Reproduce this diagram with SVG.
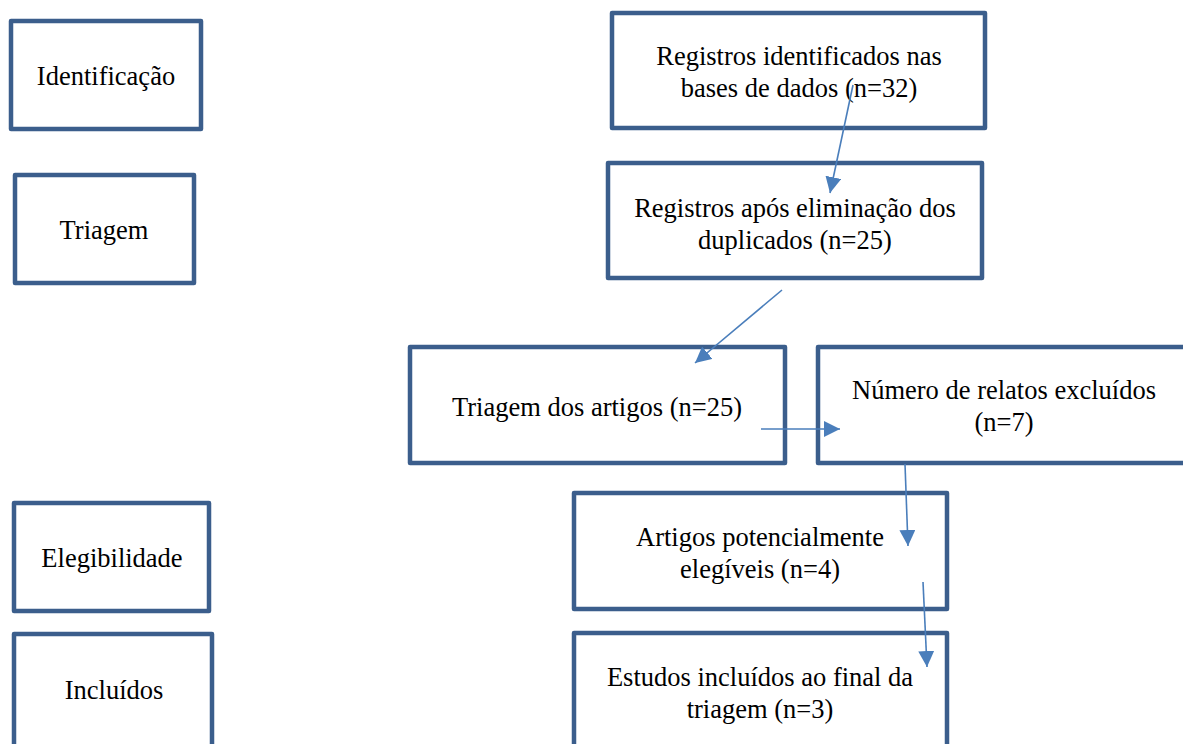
<svg xmlns="http://www.w3.org/2000/svg" width="1183" height="744" viewBox="0 0 1183 744">
<style>
.box{fill:#fff;stroke:#3B5E8C;stroke-width:4.5;stroke-linejoin:round}
.t{font-family:"Liberation Serif","Times New Roman",serif;font-size:26.5px;fill:#000;text-anchor:middle}
.c{stroke:#4A7EBB;stroke-width:1.6;fill:none;marker-end:url(#ah)}
</style>
<defs>
<marker id="ah" viewBox="0 0 10 10" refX="10" refY="5" markerWidth="16" markerHeight="16" markerUnits="userSpaceOnUse" orient="auto">
<path d="M0,0 L10,5 L0,10 z" fill="#4A7EBB"/>
</marker>
</defs>
<rect width="1183" height="744" fill="#fff"/>
<g id="n-identificacao"><rect class="box" x="11" y="21" width="190" height="108"/><text class="t" x="106" y="85">Identificação</text></g>
<g id="n-triagem"><rect class="box" x="15" y="175" width="179" height="108"/><text class="t" x="104" y="239">Triagem</text></g>
<g id="n-elegibilidade"><rect class="box" x="14" y="503" width="195" height="108"/><text class="t" x="112" y="567">Elegibilidade</text></g>
<g id="n-incluidos"><rect class="box" x="14" y="634" width="198" height="116"/><text class="t" x="114" y="699">Incluídos</text></g>
<g id="n-registros"><rect class="box" x="612" y="13" width="373" height="115"/><text class="t" x="799" y="65">Registros identificados nas</text><text class="t" x="799" y="97">bases de dados (n=32)</text></g>
<g id="n-apos"><rect class="box" x="608" y="163" width="374" height="115"/><text class="t" x="795" y="217">Registros após eliminação dos</text><text class="t" x="795" y="249">duplicados (n=25)</text></g>
<g id="n-triagem-artigos"><rect class="box" x="410" y="347" width="375" height="116"/><text class="t" x="597" y="416">Triagem dos artigos (n=25)</text></g>
<g id="n-excluidos"><rect class="box" x="818" y="347" width="380" height="116"/><text class="t" x="1004" y="399">Número de relatos excluídos</text><text class="t" x="1004" y="431">(n=7)</text></g>
<g id="n-elegiveis"><rect class="box" x="574" y="493" width="373" height="116"/><text class="t" x="760" y="546">Artigos potencialmente</text><text class="t" x="760" y="578">elegíveis (n=4)</text></g>
<g id="n-estudos"><rect class="box" x="574" y="633" width="373" height="120"/><text class="t" x="760" y="686">Estudos incluídos ao final da</text><text class="t" x="760" y="718">triagem (n=3)</text></g>
<g id="connectors">
<path class="c" d="M853,85 L830,193"/>
<path class="c" d="M782,290 L695,363"/>
<path class="c" d="M761,429 L840,429"/>
<path class="c" d="M905,464 L908,546"/>
<path class="c" d="M923,582 L927,667"/>
</g>
</svg>
